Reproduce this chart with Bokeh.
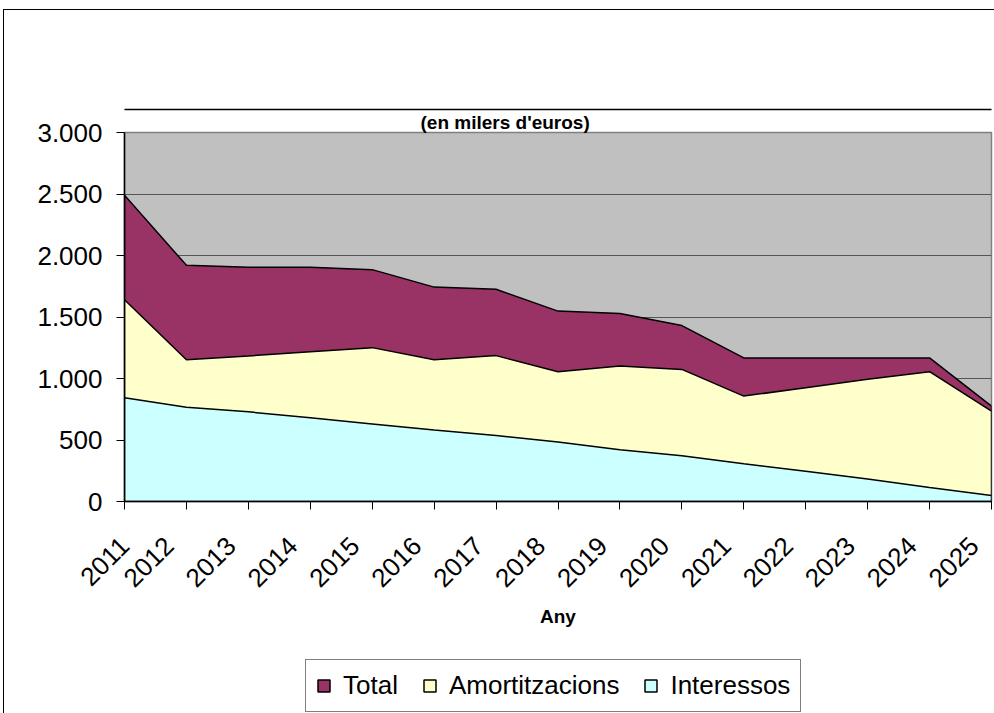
from math import pi
from bokeh.plotting import figure
from bokeh.layouts import column
from bokeh.models import (FixedTicker, Legend, LegendItem, Range1d, LinearAxis, Title)
from bokeh.embed import file_html
from bokeh.resources import INLINE

years = [2011, 2012, 2013, 2014, 2015, 2016, 2017, 2018, 2019, 2020, 2021, 2022, 2023, 2024, 2025]
total = [2490, 1920, 1905, 1905, 1885, 1743, 1725, 1548, 1528, 1430, 1167, 1167, 1167, 1167, 775]
amortitzacions = [1640, 1153, 1183, 1218, 1251, 1153, 1186, 1055, 1101, 1074, 857, 925, 993, 1055, 734]
interessos = [843, 767, 729, 680, 631, 582, 536, 484, 421, 372, 307, 245, 182, 114, 49]

y_ticks = [0, 500, 1000, 1500, 2000, 2500, 3000]
y_labels = ["0", "500", "1.000", "1.500", "2.000", "2.500", "3.000"]

series = [
    ("Total", total, "#993366"),
    ("Amortitzacions", amortitzacions, "#FFFFCC"),
    ("Interessos", interessos, "#CCFFFF"),
]

FONT = "Liberation Sans"
LABEL_SHIFT = 0.28  # horizontal shift of the rotated year labels (in years)

p = figure(frame_width=866, frame_height=368, output_backend="svg", toolbar_location=None,
           x_range=Range1d(years[0], years[-1]), y_range=Range1d(0, 3000),
           min_border_left=120, min_border_right=4, min_border_top=122,
           min_border_bottom=155, title=None)

p.styles = {"border-left": "1px solid black", "border-top": "1px solid black",
            "margin-left": "3px", "margin-top": "9px"}

p.background_fill_color = "#C0C0C0"
p.border_fill_color = "white"
p.outline_line_color = "#808080"
p.outline_line_width = 1.5

# title first (outermost), then an invisible spacer axis next to the frame
title = Title(text="(en milers d'euros)", align="left", offset=296,
              text_font=FONT, text_font_style="bold", text_font_size="19px",
              text_color="black", standoff=0)
p.add_layout(title, "above")

spacer = LinearAxis(ticker=FixedTicker(ticks=years))
spacer.major_label_overrides = {y: "" for y in years}
spacer.major_label_text_font_size = "1px"
spacer.axis_line_color = None
spacer.major_tick_line_color = None
spacer.minor_tick_line_color = None
spacer.major_tick_out = 0
spacer.major_tick_in = 0
spacer.major_label_standoff = 67
p.add_layout(spacer, "above")

p.xgrid.visible = False
p.ygrid.grid_line_color = "#555555"
p.ygrid.grid_line_width = 1

xs_base = years + years[::-1]
for name, vals, col in series:
    ys = list(vals) + [0] * len(vals)
    p.patch(xs_base, ys, fill_color=col, line_color="black", line_width=1.5)

p.yaxis.ticker = FixedTicker(ticks=y_ticks)
p.yaxis.major_label_overrides = {t: l for t, l in zip(y_ticks, y_labels)}
p.yaxis.major_label_text_font = FONT
p.yaxis.major_label_text_font_size = "26px"
p.yaxis.major_label_text_color = "black"
p.yaxis.axis_line_color = "black"
p.yaxis.axis_line_width = 1.5
p.yaxis.major_tick_out = 8
p.yaxis.major_tick_in = 0
p.yaxis.minor_tick_line_color = None
p.yaxis.major_label_standoff = 14

# main x axis: line and ticks only
p.xaxis.ticker = FixedTicker(ticks=years)
p.xaxis.major_label_overrides = {y: "" for y in years}
p.xaxis.major_label_text_font_size = "1px"
p.xaxis.axis_line_color = "black"
p.xaxis.axis_line_width = 1.5
p.xaxis.major_tick_out = 8
p.xaxis.major_tick_in = 0
p.xaxis.minor_tick_line_color = None
p.xaxis.major_label_standoff = 0

# label axis: rotated year labels, shifted left as in the original
label_range = Range1d(years[0] + LABEL_SHIFT, years[-1] + LABEL_SHIFT)
p.extra_x_ranges = {"labels": label_range}
label_ticks = [label_range.start] + years[1:]
lab_axis = LinearAxis(x_range_name="labels", ticker=FixedTicker(ticks=label_ticks))
lab_axis.major_label_overrides = {label_range.start: str(years[0])}
lab_axis.axis_line_color = None
lab_axis.major_tick_line_color = None
lab_axis.minor_tick_line_color = None
lab_axis.major_tick_out = 0
lab_axis.major_tick_in = 0
lab_axis.major_label_orientation = pi / 4
lab_axis.major_label_text_font = FONT
lab_axis.major_label_text_font_size = "26px"
lab_axis.major_label_text_color = "black"
lab_axis.major_label_standoff = 32
lab_axis.axis_label = "Any"
lab_axis.axis_label_text_font = FONT
lab_axis.axis_label_text_font_style = "bold"
lab_axis.axis_label_text_font_size = "19px"
lab_axis.axis_label_text_color = "black"
lab_axis.axis_label_standoff = 8
p.add_layout(lab_axis, "below")

# legend strip below the chart
p2 = figure(width=990, height=58, output_backend="svg", toolbar_location=None,
            x_range=Range1d(0, 1), y_range=Range1d(0, 1),
            x_axis_type=None, y_axis_type=None, min_border=0)
p2.styles = {"border-left": "1px solid black", "margin-left": "3px"}
p2.background_fill_color = "white"
p2.border_fill_color = "white"
p2.outline_line_color = None
p2.xgrid.visible = False
p2.ygrid.visible = False

leg_renderers = []
for name, vals, col in series:
    ys = list(vals) + [0] * len(vals)
    r = p2.patch(xs_base, ys, fill_color=col, line_color="black", line_width=1.5)
    leg_renderers.append((name, r))

legend = Legend(items=[LegendItem(label=n, renderers=[r]) for n, r in leg_renderers],
                orientation="horizontal", location=(181, 1))
legend.label_text_font = FONT
legend.label_text_font_size = "26px"
legend.label_text_color = "black"
legend.glyph_width = 15
legend.glyph_height = 15
legend.label_standoff = 12
legend.spacing = 24
legend.padding = 10
legend.margin = 0
legend.border_line_color = "black"
legend.border_line_width = 1
legend.background_fill_color = "white"
legend.background_fill_alpha = 1
p2.add_layout(legend, "center")

layout = column(p, p2, spacing=0)

open("out.html", "w").write(file_html(layout, INLINE))
